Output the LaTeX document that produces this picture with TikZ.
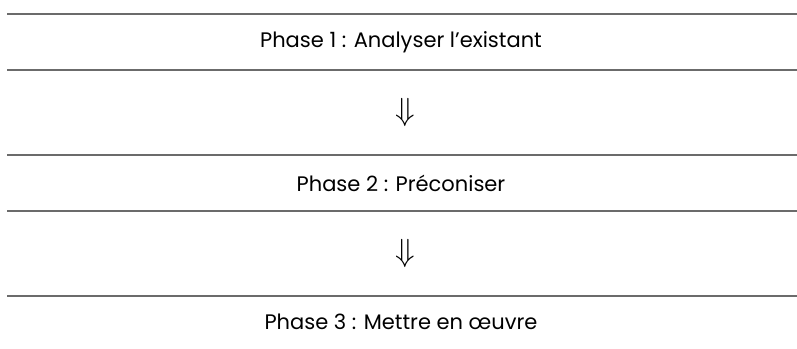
\RequirePackage{fix-cm}
\documentclass[tikz,border=0pt]{standalone}
\usepackage{fontspec}
\setmainfont{Poppins}
\begin{document}
\begin{tikzpicture}[x=1pt,y=1pt,
  rule/.style={draw=black!58, line width=2.4pt},
  phase/.style={font=\fontsize{21}{24}\selectfont, inner sep=0pt, text=black},
  arrowsym/.style={font=\fontsize{32}{36}\selectfont, inner sep=0pt}]
\useasboundingbox (0,0) rectangle (797,348);
\coordinate (l1a) at (7,334); \coordinate (l1b) at (797,334);
\coordinate (l2a) at (7,278); \coordinate (l2b) at (797,278);
\coordinate (l3a) at (7,193); \coordinate (l3b) at (797,193);
\coordinate (l4a) at (7,137); \coordinate (l4b) at (797,137);
\coordinate (l5a) at (7,52);  \coordinate (l5b) at (797,52);
\draw[rule] (l1a) -- (l1b);
\draw[rule] (l2a) -- (l2b);
\draw[rule] (l3a) -- (l3b);
\draw[rule] (l4a) -- (l4b);
\draw[rule] (l5a) -- (l5b);
\node[phase] (p1) at (401,306) {Phase 1 : Analyser l’existant};
\node[arrowsym] (a1) at (405,235.5) {$\Downarrow$};
\node[phase] (p2) at (401,165) {Phase 2 : Préconiser};
\node[arrowsym] (a2) at (405,94.5) {$\Downarrow$};
\node[phase] (p3) at (401,26) {Phase 3 : Mettre en œuvre};
\end{tikzpicture}
\end{document}
